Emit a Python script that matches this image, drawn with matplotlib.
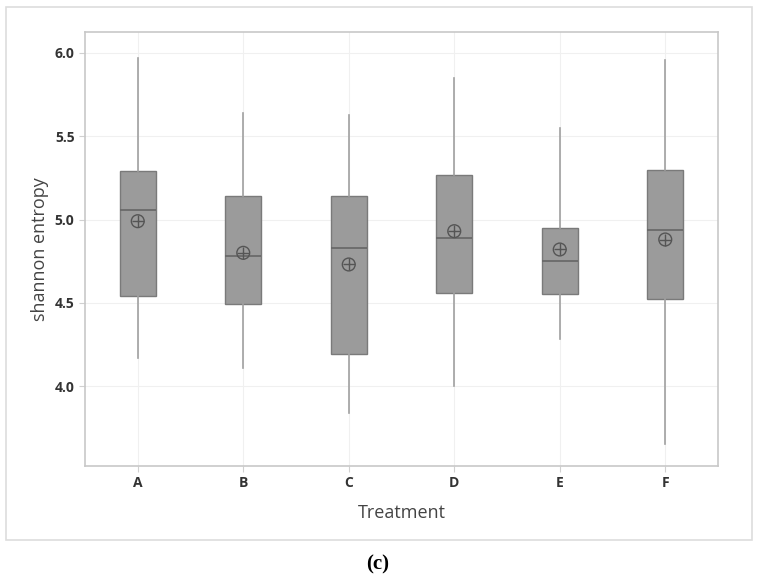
import matplotlib.pyplot as plt
from matplotlib.patches import Rectangle

# values
treatments = ['A', 'B', 'C', 'D', 'E', 'F']
whisker_low = [4.17, 4.11, 3.84, 4.00, 4.28, 3.65]
q1 = [4.54, 4.49, 4.19, 4.56, 4.55, 4.52]
median = [5.06, 4.78, 4.83, 4.89, 4.75, 4.94]
q3 = [5.29, 5.14, 5.14, 5.27, 4.95, 5.30]
whisker_high = [5.97, 5.64, 5.63, 5.85, 5.55, 5.96]
mean = [4.99, 4.80, 4.73, 4.93, 4.82, 4.88]
yticks = [4.0, 4.5, 5.0, 5.5, 6.0]

plt.rcParams['font.family'] = ['Open Sans', 'DejaVu Sans']

W, H = 757, 578
fig = plt.figure(figsize=(W / 100, H / 100), dpi=100)
ax = fig.add_axes([85 / W, 1 - 466 / H, (718 - 85) / W, (466 - 32) / H])

stats = []
for i, t in enumerate(treatments):
    stats.append({'label': t, 'whislo': whisker_low[i], 'q1': q1[i], 'med': median[i],
                  'q3': q3[i], 'whishi': whisker_high[i], 'fliers': []})

pos = list(range(len(treatments)))
ax.bxp(stats, positions=pos, widths=0.34, patch_artist=True, showcaps=False,
       boxprops=dict(facecolor='#9b9b9b', edgecolor='#7a7a7a', linewidth=1.0),
       medianprops=dict(color='#666666', linewidth=1.2),
       whiskerprops=dict(color='#a0a0a0', linewidth=1.2), zorder=3)

# mean symbol: circle with cross
ax.scatter(pos, mean, s=85, facecolors='none', edgecolors='#555555', linewidths=1.0, zorder=4)
ax.scatter(pos, mean, s=85, marker='+', color='#555555', linewidths=1.0, zorder=4)

ax.set_xlim(-0.5, 5.5)
ax.set_ylim(3.52, 6.126)
ax.set_yticks(yticks)
ax.set_yticklabels([f'{v:.1f}' for v in yticks], fontweight='bold')
ax.set_xticks(pos)
ax.set_xticklabels(treatments, fontweight='bold')
ax.grid(True, color='#f0f0f0', linewidth=0.8, zorder=0)
ax.set_axisbelow(True)
for s in ax.spines.values():
    s.set_color('#c8c8c8')
    s.set_linewidth(1.2)
ax.tick_params(axis='both', colors='#d0d0d0', length=4, labelcolor='#333333', labelsize=10)

ax.set_ylabel('shannon entropy', fontsize=13, color='#444444', labelpad=4)
ax.set_xlabel('Treatment', fontsize=13, color='#444444', labelpad=10)

# outer frame
fig.patches.append(Rectangle((6 / W, 1 - 540 / H), (752 - 6) / W, (540 - 7) / H,
                             transform=fig.transFigure, fill=False, edgecolor='#dddddd', linewidth=1.2))

fig.text(378 / W, 1 - 564 / H, '(c)', ha='center', va='center', fontsize=15,
         family='Liberation Serif', fontweight='bold')

fig.savefig('out.png', dpi=100)
